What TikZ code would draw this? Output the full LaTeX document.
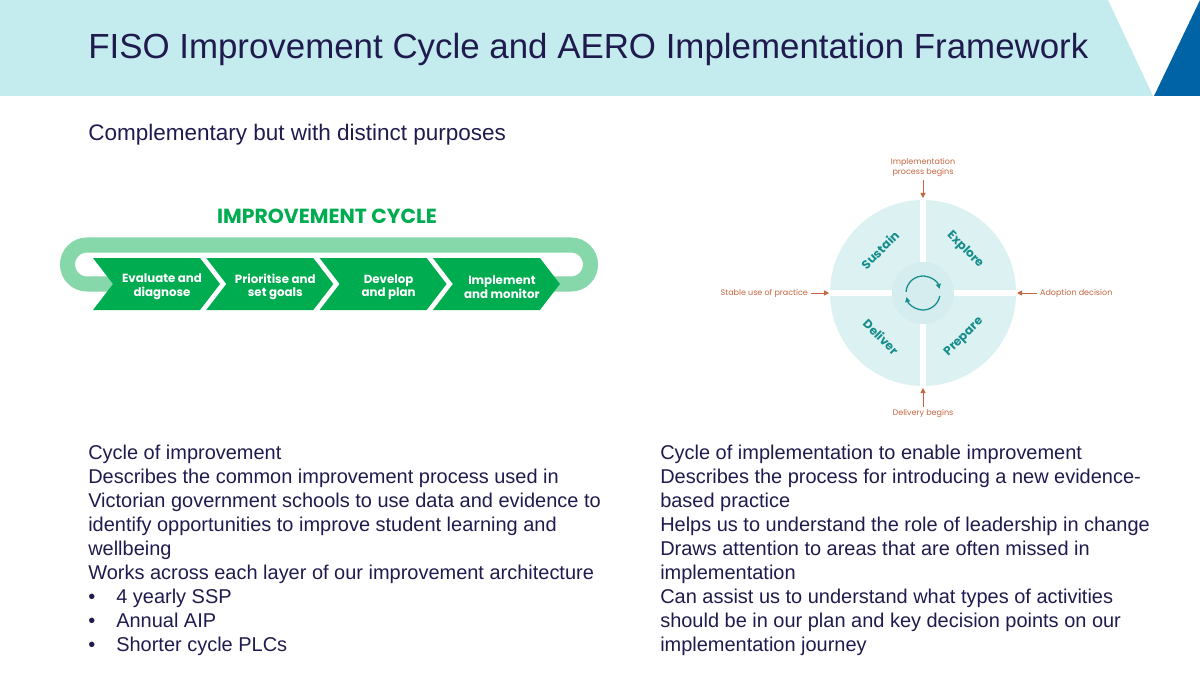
\documentclass[tikz,border=0pt]{standalone}
\usepackage{fontspec}
\setmainfont{Liberation Sans}
\newfontfamily\vicfont{Poppins}
\usepackage{tikz}
\usetikzlibrary{arrows.meta,positioning}
\usepackage{xcolor}

\definecolor{navy}{RGB}{32,27,78}
\definecolor{headcyan}{RGB}{196,236,238}
\definecolor{vicblue}{RGB}{0,99,166}
\definecolor{cycgreen}{RGB}{0,172,80}
\definecolor{loopgreen}{RGB}{134,216,170}
\definecolor{wheelfill}{RGB}{220,241,241}
\definecolor{hubfill}{RGB}{213,237,238}
\definecolor{tealtxt}{RGB}{22,140,140}
\definecolor{rust}{RGB}{196,102,64}

\newcommand{\bulletpt}{\makebox[0.7cm][l]{\textbullet}}

\begin{document}
\begin{tikzpicture}[x=0.025cm,y=-0.025cm,
    body/.style={anchor=base west, inner sep=0pt, text=navy, font=\fontsize{14.2}{17}\selectfont},
    chev/.style={fill=cycgreen},
    chevtxt/.style={text=white, align=center, inner sep=0pt, font=\vicfont\bfseries\fontsize{8.4}{9.6}\selectfont},
    quad/.style={text=tealtxt, inner sep=0pt, font=\vicfont\bfseries\fontsize{8.6}{10}\selectfont},
    cue/.style={text=rust, align=center, inner sep=2pt, font=\vicfont\fontsize{5.7}{7.1}\selectfont},
    cuearrow/.style={draw=rust, line width=0.7pt, -{Triangle[length=3.6pt,width=3.6pt]}}
]
        \useasboundingbox (0,0) rectangle (1200,675);

        % Header band
        \fill[headcyan] (0,0) -- (1108,0) -- (1153,96) -- (0,96) -- cycle;
        \fill[vicblue] (1154,96) -- (1200,0) -- (1200,96) -- cycle;
        \node[anchor=base west, inner sep=0pt, text=navy, font=\fontsize{24.8}{30}\selectfont] (title) at (88,59) {FISO Improvement Cycle and AERO Implementation Framework};
        \node[anchor=base west, inner sep=0pt, text=navy, font=\fontsize{16}{19}\selectfont] (subtitle) at (88,141) {Complementary but with distinct purposes};

        % Improvement cycle (loop behind the chevrons)
        \node[text=cycgreen, inner sep=0pt, font=\vicfont\bfseries\fontsize{14.5}{17}\selectfont] (cyctitle) at (327,216) {IMPROVEMENT CYCLE};
        \draw[loopgreen, line width=10.7pt] (113,284) -- (87,284) arc (90:270:19.5) -- (571,245) arc (-90:90:19.5) -- (552,284);
        \foreach \lbl [count=\i from 0] in {{Evaluate and\\diagnose}, {Prioritise and\\set goals}, {Develop\\and plan}, {Implement\\and monitor}} {
            \pgfmathsetmacro\L{93+113.3*\i}
            \fill[chev] (\L,258) -- ++(107,0) -- ++(20,26) -- ++(-20,26) -- ++(-107,0) -- ++(20,-26) -- cycle;
            \node[chevtxt] (chev\i) at (\L+69,287) {\lbl};
        }

        % AERO wheel
        \fill[wheelfill] (923,293) circle (93);
        \draw[white, line width=4.3pt] (923,198) -- (923,388);
        \draw[white, line width=4.3pt] (828,293) -- (1018,293);
        \fill[hubfill] (923,293) circle (31);
        \draw[tealtxt, line width=0.9pt, -{Triangle[length=3.5pt,width=3.5pt]}] (923,293) ++(-176:17) arc (-176:-14:17);
        \draw[tealtxt, line width=0.9pt, -{Triangle[length=3.5pt,width=3.5pt]}] (923,293) ++(10:17) arc (10:166:17);

        \node[quad, rotate=45] (sustain) at (880,250) {Sustain};
        \node[quad, rotate=-45] (explore) at (965,250) {Explore};
        \node[quad, rotate=-45] (deliver) at (881,337) {Deliver};
        \node[quad, rotate=45] (prepare) at (964,337) {Prepare};

        % Decision points
        \coordinate (wtop) at (923,198);
        \coordinate (wbot) at (923,388);
        \coordinate (wleft) at (829,293);
        \coordinate (wright) at (1017,293);
        \node[cue] (cuetop) at (923,168) {Implementation\\process begins};
        \node[cue, anchor=east] (cueleft) at (811,293) {Stable use of practice};
        \node[cue, anchor=west] (cueright) at (1037,293) {Adoption decision};
        \node[cue] (cuebot) at (923,414) {Delivery begins};
        \draw[cuearrow] (cuetop.south) -- (wtop);
        \draw[cuearrow] (cueleft.east) -- (wleft);
        \draw[cuearrow] (cueright.west) -- (wright);
        \draw[cuearrow] (cuebot.north) -- (wbot);

        % Text columns
        \foreach \txt [count=\i from 0] in {Cycle of improvement, Describes the common improvement process used in, Victorian government schools to use data and evidence to, identify opportunities to improve student learning and, wellbeing, Works across each layer of our improvement architecture, {\bulletpt 4 yearly SSP}, {\bulletpt Annual AIP}, {\bulletpt Shorter cycle PLCs}} {
            \node[body] (left\i) at (88,459+24*\i) {\txt};
        }
        \foreach \txt [count=\i from 0] in {Cycle of implementation to enable improvement, Describes the process for introducing a new evidence-, based practice, Helps us to understand the role of leadership in change, Draws attention to areas that are often missed in, implementation, Can assist us to understand what types of activities, should be in our plan and key decision points on our, implementation journey} {
            \node[body] (right\i) at (660,459+24*\i) {\txt};
        }
\end{tikzpicture}
\end{document}
